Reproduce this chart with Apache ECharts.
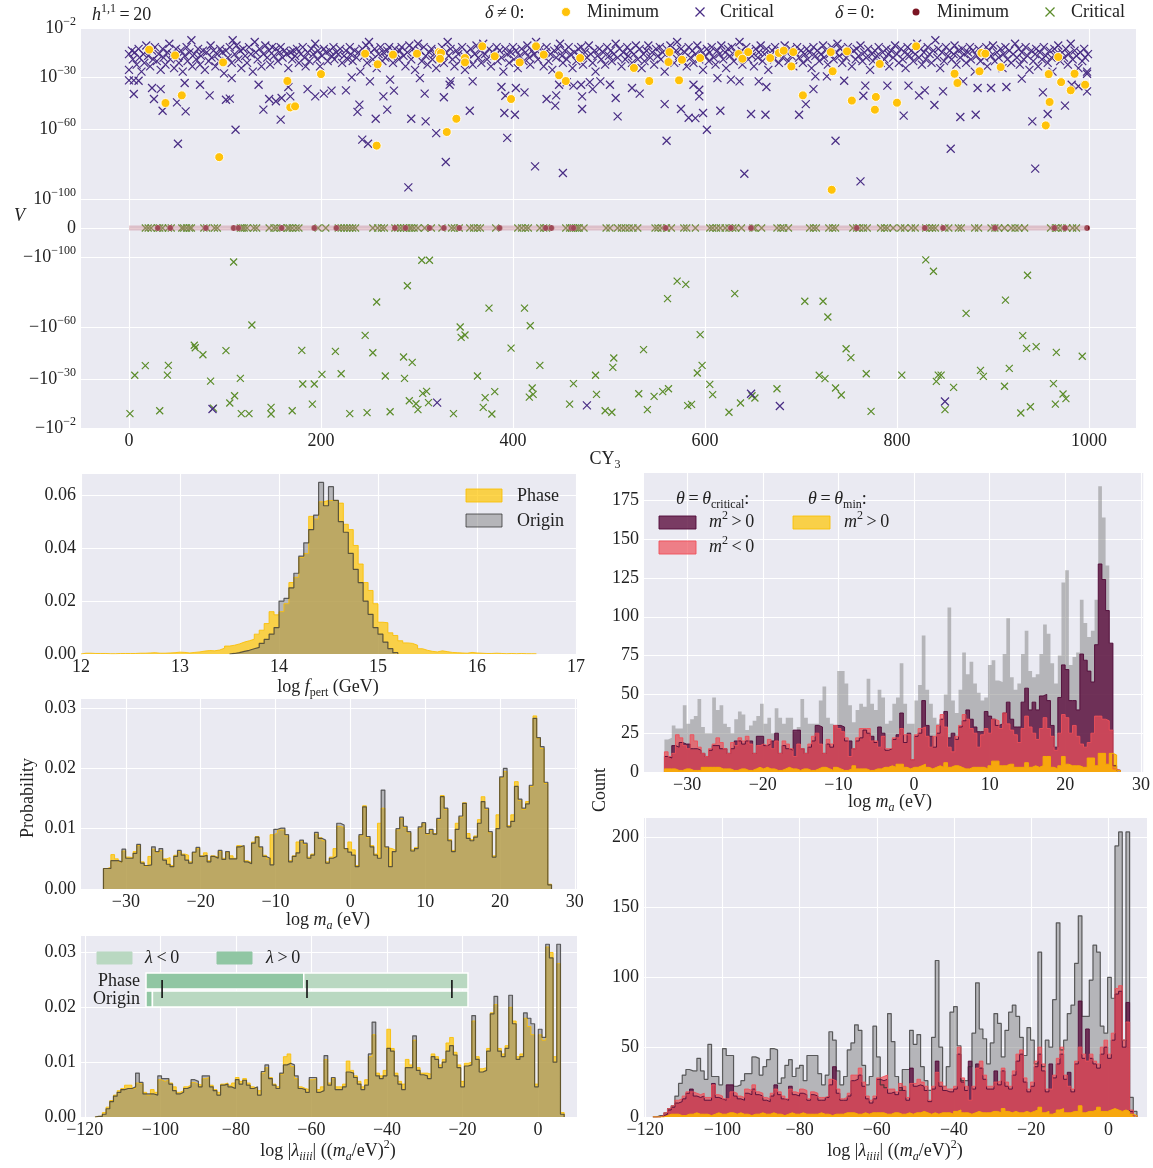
<!DOCTYPE html>
<html>
<head>
<meta charset="utf-8">
<script src="https://cdn.jsdelivr.net/npm/echarts@6/dist/echarts.min.js"></script>
<style>html,body{margin:0;padding:0;background:#fff}#c{width:1153px;height:1168px}</style>
</head>
<body>
<div id="c"></div>
<script>
// ---------------- top panel: potential value V per CY_3 ----------------
// points are [CY index, log10|V|]
const critBand = [[0,-17],[0,-26],[3,-15],[4,-20],[6,-16],[8,-23],[10,-14],[11,-19],[13,-27],[15,-17],[16,-22],[18,-12],[20,-18],[22,-24],[24,-15],[25,-20],[27,-13],[29,-21],[31,-17],[33,-26],[35,-14],[36,-19],[38,-23],[40,-16],[42,-11],[43,-20],[45,-17],[47,-25],[49,-14],[51,-19],[52,-22],[54,-15],[56,-27],[58,-18],[60,-13],[61,-21],[63,-16],[65,-9],[66,-24],[68,-17],[70,-20],[72,-14],[74,-23],[75,-18],[77,-15],[79,-26],[81,-16],[83,-21],[85,-12],[86,-19],[88,-15],[90,-24],[92,-17],[94,-21],[95,-14],[97,-16],[99,-28],[101,-15],[103,-19],[105,-13],[107,-22],[108,-9],[110,-17],[112,-12],[114,-20],[116,-15],[117,-25],[119,-14],[121,-18],[123,-22],[125,-13],[127,-17],[129,-27],[131,-10],[132,-16],[134,-20],[136,-14],[138,-24],[140,-17],[142,-12],[144,-19],[146,-15],[147,-23],[149,-13],[151,-18],[153,-14],[155,-21],[157,-16],[158,-13],[160,-19],[162,-15],[164,-17],[166,-25],[168,-16],[170,-20],[171,-15],[173,-18],[175,-14],[177,-22],[179,-17],[181,-13],[183,-19],[184,-24],[186,-16],[188,-21],[190,-14],[192,-17],[194,-11],[196,-20],[197,-15],[199,-24],[201,-18],[203,-14],[205,-16],[207,-21],[209,-15],[211,-18],[213,-13],[214,-20],[216,-16],[218,-17],[220,-14],[222,-22],[224,-18],[226,-15],[228,-20],[230,-13],[231,-17],[233,-21],[235,-15],[237,-19],[239,-16],[241,-27],[243,-14],[245,-18],[247,-12],[248,-22],[250,-10],[252,-16],[254,-20],[256,-14],[258,-25],[260,-17],[262,-13],[264,-21],[265,-16],[267,-19],[269,-15],[271,-13],[273,-18],[275,-22],[277,-14],[279,-17],[281,-20],[282,-15],[284,-13],[286,-18],[288,-24],[290,-16],[292,-12],[294,-20],[296,-14],[298,-26],[299,-17],[301,-11],[303,-15],[305,-21],[307,-13],[309,-18],[311,-23],[313,-16],[315,-14],[316,-20],[318,-17],[320,-25],[322,-15],[324,-19],[326,-13],[328,-22],[330,-16],[332,-10],[333,-18],[335,-14],[337,-20],[339,-24],[341,-15],[343,-17],[345,-21],[347,-13],[349,-18],[350,-26],[352,-16],[354,-20],[356,-14],[358,-23],[360,-17],[362,-12],[364,-19],[366,-15],[367,-22],[369,-11],[371,-17],[373,-20],[375,-14],[377,-24],[379,-16],[381,-18],[383,-13],[384,-21],[386,-15],[388,-19],[390,-27],[392,-14],[394,-17],[396,-22],[398,-16],[400,-13],[401,-20],[403,-15],[405,-25],[407,-18],[409,-14],[411,-21],[413,-16],[415,-12],[417,-19],[418,-23],[420,-15],[422,-17],[424,-10],[426,-20],[428,-14],[430,-18],[432,-24],[434,-16],[435,-13],[437,-21],[439,-17],[441,-26],[443,-15],[445,-19],[447,-14],[449,-11],[451,-18],[452,-22],[454,-15],[456,-20],[458,-13],[460,-17],[462,-25],[464,-16],[466,-21],[468,-14],[469,-18],[471,-13],[473,-23],[475,-16],[477,-19],[479,-12],[481,-17],[483,-22],[485,-15],[486,-27],[488,-18],[490,-14],[492,-20],[494,-16],[496,-23],[498,-13],[500,-18],[502,-15],[503,-21],[505,-17],[507,-11],[509,-19],[511,-14],[513,-24],[515,-16],[517,-20],[519,-13],[520,-18],[522,-15],[524,-22],[526,-17],[528,-12],[530,-20],[532,-14],[534,-25],[536,-17],[537,-21],[539,-15],[541,-12],[543,-19],[545,-16],[547,-23],[549,-14],[551,-18],[553,-13],[554,-20],[556,-16],[558,-27],[560,-14],[562,-19],[564,-12],[566,-17],[568,-22],[570,-15],[571,-10],[573,-18],[575,-14],[577,-21],[579,-16],[581,-24],[583,-13],[585,-19],[587,-15],[588,-22],[590,-17],[592,-12],[594,-20],[596,-15],[598,-26],[600,-18],[602,-14],[604,-21],[605,-16],[607,-13],[609,-19],[611,-23],[613,-15],[615,-17],[617,-12],[619,-20],[621,-16],[622,-25],[624,-14],[626,-18],[628,-13],[630,-21],[632,-16],[634,-19],[636,-10],[638,-15],[639,-23],[641,-17],[643,-13],[645,-20],[647,-15],[649,-18],[651,-24],[653,-14],[655,-19],[656,-16],[658,-12],[660,-21],[662,-17],[664,-14],[666,-26],[668,-18],[670,-15],[672,-20],[673,-13],[675,-17],[677,-22],[679,-15],[681,-19],[683,-12],[685,-16],[687,-21],[689,-14],[690,-18],[692,-24],[694,-16],[696,-13],[698,-19],[700,-15],[702,-22],[704,-17],[706,-14],[707,-20],[709,-16],[711,-25],[713,-13],[715,-18],[717,-15],[719,-21],[721,-17],[723,-12],[724,-19],[726,-15],[728,-23],[730,-17],[732,-13],[734,-20],[736,-16],[738,-11],[740,-18],[741,-14],[743,-22],[745,-16],[747,-19],[749,-13],[751,-17],[753,-24],[755,-15],[757,-20],[758,-14],[760,-18],[762,-12],[764,-21],[766,-16],[768,-19],[770,-14],[772,-26],[774,-17],[775,-21],[777,-15],[779,-18],[781,-13],[783,-22],[785,-16],[787,-20],[789,-14],[791,-17],[792,-24],[794,-15],[796,-19],[798,-12],[800,-17],[802,-22],[804,-14],[806,-20],[808,-16],[809,-25],[811,-13],[813,-18],[815,-15],[817,-21],[819,-17],[821,-11],[823,-19],[825,-14],[826,-23],[828,-16],[830,-20],[832,-13],[834,-17],[836,-22],[838,-15],[840,-9],[842,-19],[843,-14],[845,-25],[847,-16],[849,-21],[851,-13],[853,-18],[855,-15],[857,-20],[859,-17],[860,-12],[862,-23],[864,-15],[866,-19],[868,-14],[870,-17],[872,-22],[874,-16],[876,-13],[877,-20],[879,-15],[881,-27],[883,-18],[885,-14],[887,-21],[889,-16],[891,-19],[893,-13],[894,-24],[896,-15],[898,-18],[900,-12],[902,-21],[904,-16],[906,-19],[908,-14],[910,-25],[911,-17],[913,-13],[915,-20],[917,-15],[919,-22],[921,-17],[923,-11],[925,-19],[927,-14],[928,-23],[930,-16],[932,-20],[934,-13],[936,-18],[938,-26],[940,-15],[942,-21],[944,-17],[945,-14],[947,-24],[949,-16],[951,-20],[953,-13],[955,-18],[957,-22],[959,-15],[961,-19],[962,-27],[964,-14],[966,-17],[968,-12],[970,-21],[972,-16],[974,-19],[976,-14],[978,-23],[979,-17],[981,-11],[983,-20],[985,-15],[987,-18],[989,-25],[991,-16],[993,-21],[995,-14],[996,-19],[998,-27],[999,-17]];
const critSparse = [[0,-32],[5,-32],[10,-32.2],[5,-39.8],[24,-36.4],[26,-42.7],[35,-49.4],[33,-37],[51,-68.3],[50,-44.6],[59,-49.8],[58,-33.5],[74,-34.5],[84,-40.6],[101,-43.1],[105,-42.5],[111,-60.3],[107,-30.7],[135,-34.5],[140,-48.8],[146,-42.7],[153,-44],[159,-42.1],[158,-54.5],[166,-35.8],[168,-41.2],[186,-37],[194,-41.2],[203,-39.6],[211,-37.9],[226,-37.7],[232,-30.3],[238,-50.1],[240,-45.9],[243,-66],[249,-68.3],[251,-32.6],[257,-54],[265,-41.2],[269,-48.8],[272,-31.6],[276,-37.9],[291,-93.3],[294,-54],[303,-30.7],[308,-39.6],[309,-55.5],[320,-62.2],[328,-41.7],[330,-78.8],[334,-34.5],[335,-32.6],[355,-49.4],[358,-32.6],[388,-35.8],[392,-40.8],[394,-65],[391,-50.7],[402,-51.7],[403,-36.4],[412,-38.9],[423,-81.3],[435,-42.7],[444,-46.5],[445,-40.6],[452,-85.1],[448,-34.5],[456,-33.1],[463,-35],[471,-34.5],[472,-41.2],[472,-48.4],[480,-33],[483,-37],[491,-32.6],[501,-34.5],[507,-42.1],[509,-52.6],[524,-36.4],[532,-39.6],[558,-45.6],[560,-66.6],[575,-48.4],[583,-53.4],[588,-34.5],[590,-53.6],[594,-37.4],[594,-41.2],[598,-50.7],[602,-60.3],[613,-30.7],[616,-49.4],[627,-31.6],[636,-32.6],[641,-85.5],[648,-51.3],[656,-32.6],[663,-51.7],[664,-35.8],[698,-51.7],[705,-45.6],[713,-37],[715,-29.7],[727,-29.7],[736,-66.6],[745,-32.2],[762,-89.9],[765,-40.8],[767,-35],[790,-35],[807,-52.2],[812,-35],[823,-40.6],[829,-37.7],[839,-46.1],[848,-38.3],[856,-71.2],[866,-53],[869,-32.6],[882,-51.7],[884,-36.4],[898,-36.4],[914,-35.8],[930,-31],[941,-55.5],[944,-82.6],[952,-38.9],[957,-51.3],[975,-46.5],[982,-34.5],[989,-35.4],[998,-38.3],[998,-28.2]];
const critNeg = [[87,-12.9],[321,-16.5],[477,-15],[648,-21.6],[678,-14.6],[850,-17.2]];
const minNonzero = [[21,-14.4],[48,-17.7],[38,-45],[55,-40.6],[98,-21.7],[94,-76],[165,-32.4],[168,-47.5],[173,-46.9],[200,-28.4],[246,-16.7],[259,-22.8],[258,-69.4],[275,-17.3],[300,-16.7],[323,-15.8],[325,-16.3],[324,-19.6],[331,-61.6],[341,-54],[350,-19.2],[350,-21.7],[368,-12.5],[381,-18.2],[398,-42.7],[407,-21.7],[424,-12.5],[432,-17.3],[448,-29.1],[455,-32.4],[470,-19.2],[526,-24.9],[542,-32.4],[563,-15.8],[562,-21.5],[576,-20.2],[573,-32],[595,-19.2],[635,-16.9],[639,-19.6],[645,-15.8],[668,-19.2],[677,-16.3],[682,-15],[690,-24],[692,-15.8],[702,-40.6],[731,-15.8],[733,-26.8],[732,-94.7],[748,-15.4],[753,-43.6],[778,-41.5],[777,-48.8],[782,-22.6],[800,-44.8],[820,-12.5],[860,-28.2],[863,-33.5],[888,-16.3],[892,-16.7],[886,-26.8],[908,-24.4],[958,-28.4],[959,-44.4],[955,-57.8],[968,-18.6],[971,-33],[985,-28.2],[981,-37.7],[996,-34.5]];
const zeroCritNeg = [[1,-10.2],[6,-32.2],[17,-37.7],[32,-11.9],[41,-37.9],[40,-32.3],[68,-49.4],[69,-48],[77,-44],[85,-28.9],[88,-13.4],[101,-46.3],[105,-16.3],[110,-20.5],[109,-97.1],[116,-30.4],[117,-10.2],[125,-10.2],[128,-61],[148,-13.8],[148,-10],[170,-11.9],[180,-46.5],[181,-27.2],[191,-15.7],[193,-27.2],[201,-32.7],[215,-45.9],[221,-33.1],[230,-10.2],[246,-55.1],[248,-10.8],[254,-45.1],[258,-74.2],[267,-31.8],[272,-11.3],[286,-42.7],[287,-30.4],[290,-83.5],[295,-39.6],[292,-17.6],[299,-15.9],[301,-12.5],[305,-98.1],[313,-98.1],[306,-21.8],[310,-23],[312,-16.5],[338,-10.2],[345,-59.9],[346,-53.9],[350,-55.3],[363,-31.8],[369,-13.8],[371,-19.4],[375,-70.7],[378,-10],[381,-22.8],[398,-47.8],[412,-70.7],[417,-19.7],[418,-60.6],[420,-24.9],[421,-21.3],[428,-37.9],[459,-15.7],[463,-27.4],[486,-32.2],[487,-21.3],[496,-11.9],[503,-11],[505,-42.1],[504,-36.7],[531,-21.6],[536,-46.9],[540,-12.5],[547,-20.1],[556,-22.8],[562,-24.5],[561,-76.1],[571,-86.2],[580,-84.3],[582,-14.8],[586,-15.5],[592,-33.5],[595,-55.5],[597,-37.9],[605,-27],[608,-21.1],[625,-11],[631,-79],[637,-16.3],[649,-20.5],[652,-19.2],[675,-24.5],[704,-74.6],[719,-32.2],[723,-74.6],[725,-30.3],[728,-65.6],[736,-24.9],[742,-20.9],[747,-47.4],[752,-42.3],[768,-33.1],[773,-11.5],[805,-32.3],[830,-98.3],[838,-91.8],[841,-28.7],[843,-32.3],[846,-32.3],[850,-12.5],[859,-25.3],[872,-67.7],[887,-35],[890,-31.6],[912,-25.9],[913,-75.3],[917,-36.2],[929,-10.6],[931,-54.9],[935,-47.6],[936,-89.5],[939,-14.2],[945,-48.6],[963,-27.4],[965,-15.7],[966,-45.3],[973,-21.5],[976,-18.8],[993,-43.1]];
const zeroCritCY = [17,20,23,30,32,35,41,44,55,57,60,63,65,78,81,89,92,116,118,120,123,130,133,146,151,154,158,165,167,170,174,177,197,205,218,221,224,227,230,233,236,254,259,263,266,277,280,283,286,289,292,294,297,301,308,315,326,336,339,344,355,359,363,366,382,405,409,413,416,428,432,435,455,459,461,463,465,467,469,474,497,501,509,513,517,521,525,530,548,551,555,560,565,578,581,590,605,608,612,616,621,625,629,632,638,650,652,659,675,679,682,687,709,713,716,729,733,736,754,758,761,765,769,783,787,790,796,804,808,815,819,830,834,837,840,850,854,864,867,881,885,898,902,906,912,919,923,927,933,960,965,968,972,977,983,987];
const zeroMinCY = [30,43,80,109,114,159,193,216,277,288,313,328,344,386,434,440,461,463,559,627,648,758,829,848,902,964,975,998];
const zeroBandCY = [0, 999];
const cyTicks = [0, 200, 400, 600, 800, 1000];
const vTickExps = [-2, -30, -60, -100];

// ---------------- f_pert distributions (probability per bin) ----------------
const fpertStart = 12.0, fpertWidth = 0.05;
const fpertPhase = [0.0003,0.0003,0.0002,0.0002,0.0002,0.0001, 0.0001,0.0002,0.0002,0.0002,0.0002,0.0003, 0.0003,0.0004,0.0005,0.0003,0.0003,0.0004, 0.0005,0.0007,0.0006,0.0004,0.0006,0.0008, 0.0011,0.0013,0.0012,0.0015,0.0022,0.0030, 0.0033,0.0038,0.0045,0.0050,0.0056,0.0075, 0.0090,0.0115,0.0160,0.0148,0.0160,0.0190, 0.0270,0.0290,0.0365,0.0380,0.0520,0.0510, 0.0575,0.0580,0.0580,0.0580,0.0570,0.0490, 0.0470,0.0410,0.0340,0.0270,0.0240,0.0190, 0.0120,0.0118,0.0080,0.0070,0.0050,0.0042, 0.0040,0.0033,0.0020,0.0014,0.0010,0.0008, 0.0012,0.0009,0.0006,0.0005,0.0004,0.0003, 0.0006,0.0004,0.0003,0.0002,0.0002,0.0003, 0.0002,0.0001,0.0002,0.0001,0.0002,0.0001,0.0001,0.0001];
const fpertOriginStart = 13.5;
const fpertOrigin = [0.0002,0.0005,0.0010,0.0014,0.0020,0.0025, 0.0040,0.0055,0.0075,0.0100,0.0200,0.0210, 0.0250,0.0305,0.0370,0.0420,0.0470,0.0525, 0.0648,0.0560,0.0632,0.0580,0.0500,0.0460, 0.0380,0.0320,0.0270,0.0200,0.0150,0.0100, 0.0075,0.0045,0.0020,0.0005];

// ---------------- log m_a distributions ----------------
const maStart = -33.0, maWidthProb = 0.495, maWidthCount = 0.486;
const maOriginProb = [0.0034,0.0034,0.0047,0.0047,0.0045,0.0066,0.0051,0.0051,0.0059,0.0074, 0.0043,0.0039,0.0040,0.0070,0.0062,0.0067,0.0048,0.0041,0.0037,0.0054, 0.0064,0.0056,0.0048,0.0043,0.0061,0.0069,0.0054,0.0056,0.0045,0.0054, 0.0051,0.0064,0.0049,0.0062,0.0050,0.0050,0.0070,0.0072,0.0045,0.0042, 0.0076,0.0086,0.0070,0.0054,0.0051,0.0040,0.0099,0.0101,0.0101,0.0090, 0.0045,0.0054,0.0060,0.0081,0.0076,0.0051,0.0056,0.0094,0.0084,0.0081, 0.0043,0.0051,0.0054,0.0109,0.0106,0.0067,0.0061,0.0056,0.0037,0.0090, 0.0136,0.0087,0.0070,0.0056,0.0051,0.0164,0.0070,0.0037,0.0062,0.0100, 0.0119,0.0104,0.0095,0.0063,0.0067,0.0103,0.0110,0.0092,0.0099,0.0091, 0.0117,0.0153,0.0134,0.0080,0.0062,0.0099,0.0121,0.0142,0.0084,0.0080, 0.0086,0.0109,0.0145,0.0134,0.0095,0.0053,0.0100,0.0186,0.0200,0.0103, 0.0112,0.0170,0.0149,0.0134,0.0141,0.0172,0.0283,0.0251,0.0236,0.0177, 0.0007];
const maPhaseProb = [0.0034,0.0036,0.0057,0.0050,0.0045,0.0063,0.0053,0.0052,0.0062,0.0072, 0.0045,0.0038,0.0054,0.0066,0.0060,0.0064,0.0050,0.0052,0.0039,0.0056, 0.0062,0.0058,0.0056,0.0045,0.0060,0.0067,0.0055,0.0060,0.0047,0.0055, 0.0053,0.0062,0.0051,0.0061,0.0055,0.0051,0.0072,0.0070,0.0047,0.0044, 0.0078,0.0087,0.0068,0.0056,0.0050,0.0090,0.0093,0.0098,0.0098,0.0088, 0.0047,0.0055,0.0078,0.0080,0.0074,0.0053,0.0058,0.0091,0.0085,0.0080, 0.0045,0.0053,0.0067,0.0104,0.0102,0.0066,0.0078,0.0065,0.0039,0.0088, 0.0138,0.0085,0.0072,0.0058,0.0109,0.0134,0.0068,0.0067,0.0064,0.0098, 0.0117,0.0102,0.0093,0.0065,0.0069,0.0101,0.0108,0.0091,0.0097,0.0092, 0.0115,0.0155,0.0132,0.0082,0.0064,0.0109,0.0119,0.0143,0.0092,0.0082, 0.0088,0.0115,0.0153,0.0132,0.0093,0.0055,0.0123,0.0184,0.0195,0.0105, 0.0123,0.0178,0.0147,0.0132,0.0145,0.0170,0.0287,0.0250,0.0233,0.0175, 0.0008];
const maTotalCount = [21,22,30,28,28,43,31,34,36,47, 29,25,25,48,40,43,31,29,25,34, 39,37,27,30,33,36,44,31,35,25, 41,35,31,35,35,26,29,47,35,31, 31,31,46,55,35,31,28,65,65,57, 43,32,40,44,42,60,44,40,53,48, 31,33,44,48,70,44,31,31,46,56, 88,53,44,35,31,23,50,106,46,38, 53,77,63,71,57,51,46,48,69,72, 59,58,76,99,61,53,57,76,91,65, 61,63,76,95,89,70,57,75,122,130, 69,74,77,111,96,87,91,111,184,164, 133,83,5,2];
const maCritPos = [10,9,17,16,19,18,18,15,15,14, 12,10,14,17,17,15,15,12,15,20, 20,18,20,20,12,23,23,17,18,20, 25,12,17,15,14,27,27,15,12,16, 20,30,29,12,18,16,30,30,29,20, 20,15,20,22,27,25,23,19,29,25, 14,15,21,24,38,19,25,8,23,25, 46,30,23,16,25,34,39,22,25,21, 29,33,40,34,29,26,26,39,36,34, 30,31,38,45,34,29,29,45,54,40, 45,40,49,50,46,30,16,48,69,66, 46,46,40,76,72,65,58,82,134,124, 104,83,4,1];
const maCritNeg = [13,10,12,24,22,17,15,24,20,16, 12,10,15,18,22,19,15,12,19,17, 22,20,23,18,12,17,18,17,21,15, 20,12,20,18,15,10,18,15,12,18, 23,25,18,12,21,18,30,28,26,22, 10,15,22,28,28,28,20,20,16,23, 15,15,22,22,28,24,24,8,24,28, 29,23,16,23,30,37,29,16,13,23, 30,37,34,28,25,16,24,28,25,34, 33,28,38,31,27,24,19,28,36,29, 25,21,28,35,28,23,14,25,37,35, 25,30,23,18,16,19,25,36,36,34, 33,27,2,1];
const maMinPos = [2,2,2,1,1,2,2,1,1,1, 3,3,3,3,3,2,2,2,1,1, 2,2,1,1,2,3,2,3,2,2, 1,1,2,3,2,2,1,2,2,1, 1,2,3,3,2,1,3,2,1,1, 2,4,2,2,2,1,1,2,2,3, 3,4,3,5,5,3,2,3,3,4, 5,3,2,3,4,3,6,3,4,4, 3,2,2,3,3,3,3,2,4,7, 7,4,4,5,5,3,3,3,6,3, 4,3,4,10,10,3,2,4,10,5, 4,4,4,3,3,9,9,4,12,12, 5,12,11,1];

// ---------------- log |lambda_iiii| distributions ----------------
const lamStartProb = -117.3, lamWidthProb = 0.978;
const lamOriginProb = [0.0001,0.0001,0.0005,0.0015,0.0028,0.0038,0.0045,0.0050,0.0052,0.0052, 0.0055,0.0080,0.0063,0.0042,0.0042,0.0042,0.0040,0.0075,0.0070,0.0070, 0.0060,0.0048,0.0042,0.0045,0.0052,0.0055,0.0068,0.0065,0.0055,0.0075, 0.0075,0.0055,0.0048,0.0040,0.0058,0.0060,0.0055,0.0052,0.0068,0.0060, 0.0067,0.0058,0.0052,0.0055,0.0040,0.0083,0.0095,0.0070,0.0058,0.0052, 0.0080,0.0095,0.0098,0.0095,0.0075,0.0052,0.0050,0.0045,0.0072,0.0072, 0.0045,0.0048,0.0112,0.0058,0.0072,0.0050,0.0050,0.0055,0.0082,0.0080, 0.0072,0.0060,0.0050,0.0058,0.0115,0.0173,0.0075,0.0070,0.0075,0.0125, 0.0120,0.0075,0.0060,0.0050,0.0090,0.0090,0.0148,0.0085,0.0077,0.0075, 0.0070,0.0110,0.0105,0.0090,0.0100,0.0120,0.0130,0.0113,0.0090,0.0055, 0.0093,0.0095,0.0185,0.0105,0.0082,0.0085,0.0120,0.0188,0.0220,0.0120, 0.0110,0.0125,0.0222,0.0170,0.0105,0.0110,0.0190,0.0180,0.0170,0.0055, 0.0160,0.0145,0.0315,0.0290,0.0100,0.0315,0.0005];
const lamPhaseProb = [0.0001,0.0002,0.0008,0.0018,0.0030,0.0040,0.0048,0.0052,0.0058,0.0058, 0.0052,0.0062,0.0060,0.0045,0.0040,0.0050,0.0045,0.0068,0.0065,0.0068, 0.0062,0.0055,0.0045,0.0048,0.0055,0.0058,0.0063,0.0060,0.0058,0.0070, 0.0072,0.0058,0.0050,0.0045,0.0060,0.0062,0.0058,0.0062,0.0072,0.0065, 0.0070,0.0062,0.0055,0.0052,0.0048,0.0080,0.0090,0.0072,0.0060,0.0055, 0.0078,0.0110,0.0115,0.0092,0.0070,0.0055,0.0052,0.0050,0.0068,0.0070, 0.0050,0.0055,0.0105,0.0062,0.0070,0.0055,0.0055,0.0060,0.0102,0.0085, 0.0075,0.0065,0.0055,0.0068,0.0110,0.0150,0.0080,0.0075,0.0085,0.0160, 0.0125,0.0080,0.0065,0.0060,0.0105,0.0095,0.0140,0.0090,0.0080,0.0080, 0.0078,0.0115,0.0110,0.0095,0.0105,0.0135,0.0145,0.0118,0.0095,0.0065, 0.0098,0.0100,0.0175,0.0110,0.0088,0.0090,0.0125,0.0190,0.0205,0.0125, 0.0115,0.0130,0.0200,0.0175,0.0110,0.0115,0.0180,0.0165,0.0150,0.0060, 0.0150,0.0140,0.0310,0.0300,0.0110,0.0280,0.0008];
const lamStartCount = -118.0, lamWidthCount = 0.95;
const lamTotalCount = [0,1,1,3,6,8,15,24,30,34, 33,33,42,33,27,52,29,29,23,49, 44,44,22,23,26,31,31,43,42,30, 36,41,49,48,24,28,37,41,29,35, 37,26,44,44,44,31,23,30,61,55, 33,23,29,48,53,66,62,37,23,29, 65,43,23,21,74,54,29,19,34,34, 62,52,59,36,26,19,57,112,50,22, 36,75,79,51,26,26,36,60,96,63, 56,38,53,74,67,43,62,75,80,72, 57,44,64,55,38,118,36,55,50,84, 139,48,55,74,80,110,144,72,72,98, 123,118,65,60,100,85,194,204,55,204, 14,4];
const lamCritPos = [0,0,1,2,5,7,10,11,13,17, 20,15,14,15,12,12,24,14,13,12, 23,23,15,13,12,17,16,20,16,15, 12,11,15,23,16,13,12,22,16,15, 17,16,12,16,15,12,12,14,23,36, 17,12,12,15,26,27,30,22,13,10, 13,27,26,27,17,18,16,21,19,12, 35,22,23,22,19,11,20,40,22,19, 18,18,20,45,25,19,40,20,38,35, 27,20,20,33,23,33,22,20,30,40, 45,25,18,22,36,45,33,18,38,28, 38,45,27,32,18,38,83,42,63,42, 38,35,45,50,42,55,88,90,50,82, 4,1];
const lamCritNeg = [0,0,1,3,6,8,12,13,15,18, 18,17,16,17,14,14,23,16,15,13, 13,18,17,15,14,20,19,23,18,17, 14,13,17,20,18,15,13,20,18,17, 20,19,13,18,17,14,14,15,27,26, 20,13,14,17,30,30,35,25,15,12, 15,28,29,30,20,20,18,24,22,14, 24,24,27,25,22,12,22,32,25,22, 20,20,22,50,28,22,12,22,35,40, 30,22,22,25,26,35,25,22,33,45, 48,28,20,25,40,50,38,20,20,30, 42,50,30,22,20,40,50,45,40,45, 40,38,50,55,45,60,92,94,55,68, 5,1];
const lamMinPos = [0,0,0,1,2,2,2,1,1,2, 2,3,2,2,2,1,2,3,2,2, 3,3,2,3,2,2,1,2,2,3, 2,2,3,2,2,1,2,3,2,2, 3,2,2,2,2,3,2,2,1,2, 2,2,3,3,3,2,2,3,2,3, 3,3,3,2,2,3,3,2,2,3, 2,3,3,4,3,2,3,2,3,3, 3,2,4,5,3,3,2,3,4,3, 3,3,4,4,3,6,4,3,4,3, 3,4,3,4,5,7,3,4,2,3, 5,6,3,3,4,4,8,3,4,4, 5,7,4,4,5,6,5,4,5,4, 2,1];

// sign-of-coupling fractions and marker positions for the inset bar
const insetRows = ['Origin', 'Phase'];
const lamPositiveFrac = [0.02, 0.49];
const insetMarkers = [0.05, 0.5, 0.95];

// ---------------- styling ----------------
const SERIF = '"Liberation Serif","DejaVu Serif","Times New Roman",serif';
const TXT = '#222222';
const BG = '#EAEAF2';
const SHIFT = 116.6;               // symmetric-log offset for the V axis
const T = (sign, e) => sign * (e + SHIFT);

function rs(size, italic, lh, va) {
  return {fontFamily: SERIF, fontSize: size, fontStyle: italic ? 'italic' : 'normal',
          color: TXT, fill: TXT, lineHeight: lh, verticalAlign: va};
}
const RICH = {
  n: rs(18, false, 24, 'middle'), i: rs(18, true, 24, 'middle'),
  s: rs(12, false, 12, 'top'), si: rs(12, true, 12, 'top'),
  u: rs(12, false, 12, 'bottom'), ui: rs(12, true, 12, 'bottom'),
  b: rs(18, false, 24, 'middle')
};

const minus = v => (v < 0 ? '\u2212' + (-v) : String(v));
const range = (a, b, step) => { const r = []; for (let v = a; v <= b + 1e-9; v += step) r.push(+v.toFixed(6)); return r; };

function axis(gridIndex, min, max, ticks, fmt, show) {
  return {
    type: 'value', gridIndex, min, max, show: show !== false,
    axisLine: {show: false}, axisTick: {show: false, customValues: ticks},
    axisLabel: {customValues: ticks, formatter: fmt, fontFamily: SERIF, fontSize: 18, color: TXT, margin: 5, rich: RICH},
    splitLine: {show: true, lineStyle: {color: '#ffffff', width: 1.1}}
  };
}

function stepPoints(start, width, vals) {
  const pts = [[start, 0]];
  vals.forEach((v, i) => pts.push([start + i * width, v]));
  pts.push([start + vals.length * width, vals[vals.length - 1]]);
  pts.push([start + vals.length * width, 0]);
  return pts;
}
function hist(ax, start, width, vals, fill, edge, edgeW) {
  return {
    type: 'line', xAxisIndex: ax, yAxisIndex: ax, step: 'end', symbol: 'none', silent: true,
    data: stepPoints(start, width, vals),
    lineStyle: {color: edge || fill, width: edge ? edgeW : 0, opacity: edge ? 1 : 0},
    areaStyle: {color: fill, opacity: 1}
  };
}

const C_PURPLE = '#482c84', C_GREEN = '#5b8c2a', C_GOLD = '#ffc20a', C_DRED = '#7b1523';
const X_SYMBOL = 'path://M0,0L10,10M10,0L0,10';

const F_PHASE = 'rgba(255,196,0,0.70)', E_PHASE = 'rgba(250,190,0,0.85)';
const F_GRAY = 'rgba(128,128,128,0.5)', E_GRAY = 'rgba(50,50,50,0.75)';
const F_CPOS = 'rgba(92,15,63,0.80)', E_CPOS = 'rgba(80,10,55,0.9)';
const F_CNEG = 'rgba(240,80,90,0.70)', E_CNEG = 'rgba(240,80,90,0.9)';
const F_MIN = 'rgba(255,185,0,0.85)', E_MIN = 'rgba(245,172,0,1)';
const G_LIGHT = '#b9d8c1', G_MED = '#90c6a3';

// ---------------- axes ----------------
const vTicks = [...vTickExps.map(e => T(1, e)), 0, ...vTickExps.map(e => T(-1, e))];
const vFmt = v => {
  if (Math.abs(v) < 1e-6) return '{b|0}';
  const e = Math.round(Math.abs(v) - SHIFT);
  return '{b|' + (v < 0 ? '\u221210' : '10') + '}{s|\u2212' + (-e) + '}';
};
const fix2 = v => v.toFixed(2);

const xAxes = [
  axis(0, -50, 1049, cyTicks, v => String(v)),
  axis(1, 12, 17, range(12, 17, 1), v => String(v)),
  axis(2, -36, 30.3, range(-30, 30, 10), minus),
  axis(3, -121, 10.3, range(-120, 0, 20), minus),
  axis(4, -35.7, 30.3, range(-30, 30, 10), minus),
  axis(5, -120.3, 10, range(-120, 0, 20), minus),
  axis(6, 0, 1, [], v => '', false)
];
xAxes.forEach(a => { a.axisLabel.margin = 4; });
const yAxes = [
  axis(0, T(-1, -2), T(1, -2), vTicks, vFmt),
  axis(1, 0, 0.068, range(0, 0.06, 0.02), fix2),
  axis(2, 0, 0.0315, range(0, 0.03, 0.01), fix2),
  axis(3, 0, 0.033, range(0, 0.03, 0.01), fix2),
  axis(4, 0, 192.6, range(0, 175, 25), v => String(v)),
  axis(5, 0, 214, range(0, 200, 50), v => String(v)),
  axis(6, 0, 2, [], v => '', false)
];

const gridBox = (left, top, width, height) => ({left, top, width, height, show: true, backgroundColor: BG, borderWidth: 0, containLabel: false});
const grids = [
  gridBox(81, 28, 1055, 400),
  gridBox(81, 474, 495, 180),
  gridBox(81, 699, 496, 190),
  gridBox(81, 936, 496, 181),
  gridBox(644, 473, 503, 299),
  gridBox(644, 818, 503, 299),
  {left: 146, top: 972, width: 322, height: 36, show: false}
];

// ---------------- series ----------------
const series = [];
// zero line band of the delta = 0 solutions
series.push({type: 'line', xAxisIndex: 0, yAxisIndex: 0, symbol: 'none', silent: true,
  data: zeroBandCY.map(c => [c, 0]), lineStyle: {color: 'rgba(205,140,150,0.45)', width: 5}});
const scatter = (data, symbol, size, color, border, bw) => ({
  type: 'scatter', xAxisIndex: 0, yAxisIndex: 0, silent: true, data, symbol, symbolSize: size,
  itemStyle: {color, borderColor: border, borderWidth: bw, opacity: 1}
});
series.push(scatter(critBand.map(p => [p[0], T(1, p[1])]), X_SYMBOL, 8, C_PURPLE, C_PURPLE, 1.2));
series.push(scatter(critSparse.map(p => [p[0], T(1, p[1])]), X_SYMBOL, 8, C_PURPLE, C_PURPLE, 1.2));
series.push(scatter(zeroCritCY.map(c => [c, 0]), X_SYMBOL, 7, C_GREEN, C_GREEN, 1.2));
series.push(scatter(zeroCritNeg.map(p => [p[0], T(-1, p[1])]), X_SYMBOL, 7, C_GREEN, C_GREEN, 1.2));
series.push(scatter(critNeg.map(p => [p[0], T(-1, p[1])]), X_SYMBOL, 8, C_PURPLE, C_PURPLE, 1.2));
series.push(scatter(minNonzero.map(p => [p[0], T(1, p[1])]), 'circle', 9, C_GOLD, '#ffffff', 0.9));
series.push(scatter(zeroMinCY.map(c => [c, 0]), 'circle', 6, C_DRED, 'rgba(255,255,255,0.6)', 0.5));

// probability histograms
series.push(hist(1, fpertStart, fpertWidth, fpertPhase, F_PHASE, E_PHASE, 1));
series.push(hist(1, fpertOriginStart, fpertWidth, fpertOrigin, F_GRAY, E_GRAY, 1.2));
series.push(hist(2, maStart, maWidthProb, maPhaseProb, F_PHASE, E_PHASE, 1));
series.push(hist(2, maStart, maWidthProb, maOriginProb, F_GRAY, E_GRAY, 1.2));
series.push(hist(3, lamStartProb, lamWidthProb, lamPhaseProb, F_PHASE, E_PHASE, 1));
series.push(hist(3, lamStartProb, lamWidthProb, lamOriginProb, F_GRAY, E_GRAY, 1.2));
// count histograms
series.push(hist(4, maStart, maWidthCount, maTotalCount, F_GRAY, null, 0));
series.push(hist(4, maStart, maWidthCount, maCritPos, F_CPOS, E_CPOS, 1));
series.push(hist(4, maStart, maWidthCount, maCritNeg, F_CNEG, E_CNEG, 1));
series.push(hist(4, maStart, maWidthCount, maMinPos, F_MIN, E_MIN, 1));
series.push(hist(5, lamStartCount, lamWidthCount, lamTotalCount, F_GRAY, E_GRAY, 1.2));
series.push(hist(5, lamStartCount, lamWidthCount, lamCritPos, F_CPOS, E_CPOS, 1));
series.push(hist(5, lamStartCount, lamWidthCount, lamCritNeg, F_CNEG, E_CNEG, 1));
series.push(hist(5, lamStartCount, lamWidthCount, lamMinPos, F_MIN, E_MIN, 1));

// inset: fraction of positive / negative couplings
const insetData = [];
insetRows.forEach((r, i) => {
  insetData.push([0, lamPositiveFrac[i], i, 1]);
  insetData.push([lamPositiveFrac[i], 1, i, 0]);
});
series.push({
  type: 'custom', xAxisIndex: 6, yAxisIndex: 6, silent: true, data: insetData, z: 10,
  renderItem: (params, api) => {
    const a = api.coord([api.value(0), api.value(2) + 0.05]);
    const b = api.coord([api.value(1), api.value(2) + 0.95]);
    return {type: 'rect', shape: {x: a[0], y: b[1], width: b[0] - a[0], height: a[1] - b[1]},
      style: {fill: api.value(3) ? G_MED : G_LIGHT, stroke: '#ffffff', lineWidth: 1.5}};
  }
});
series.push({
  type: 'custom', xAxisIndex: 6, yAxisIndex: 6, silent: true, data: insetMarkers.map(f => [f]), z: 11,
  renderItem: (params, api) => {
    const a = api.coord([api.value(0), 0.55]);
    const b = api.coord([api.value(0), 1.55]);
    return {type: 'line', shape: {x1: a[0], y1: a[1], x2: b[0], y2: b[1]}, style: {stroke: '#111', lineWidth: 1.6}};
  }
});

// ---------------- annotations ----------------
const txt = (x, y, text, align, extra) => ({
  type: 'text', x, y, silent: true, z: 100,
  style: Object.assign({text, rich: RICH, fontFamily: SERIF, fontSize: 18, fill: TXT,
    align: align || 'left', verticalAlign: 'middle', textAlign: align || 'left', textVerticalAlign: 'middle'}, extra || {})
});
const cross = (cx, cy, r, color) => [
  {type: 'line', silent: true, z: 100, shape: {x1: cx - r, y1: cy - r, x2: cx + r, y2: cy + r}, style: {stroke: color, lineWidth: 1.3}},
  {type: 'line', silent: true, z: 100, shape: {x1: cx - r, y1: cy + r, x2: cx + r, y2: cy - r}, style: {stroke: color, lineWidth: 1.3}}
];
const patch = (x, y, w, h, fill, stroke) => ({type: 'rect', silent: true, z: 100, shape: {x, y, width: w, height: h},
  style: {fill, stroke: stroke || fill, lineWidth: 1}});

const LAM_LABEL = '{n|log |}{i|\u03bb}{ui|iiii}{n|| ((}{i|m}{ui|a}{n|/eV)}{s|2}{n|)}';
const MA_LABEL = '{n|log }{i|m}{ui|a}{n| (eV)}';

const graphic = [
  txt(92, 15, '{i|h}{s|1,1}{n|\u2009=\u200920}'),
  txt(485, 13, '{i|\u03b4}{n|\u2009\u2260\u20090:}'),
  {type: 'circle', silent: true, z: 100, shape: {cx: 566, cy: 12, r: 4.5}, style: {fill: C_GOLD, stroke: '#fff', lineWidth: 0.8}},
  txt(587, 12, 'Minimum'),
  ...cross(700, 12, 4.5, C_PURPLE),
  txt(720, 12, 'Critical'),
  txt(835, 13, '{i|\u03b4}{n|\u2009=\u20090:}'),
  {type: 'circle', silent: true, z: 100, shape: {cx: 916, cy: 12, r: 3.5}, style: {fill: C_DRED}},
  txt(937, 12, 'Minimum'),
  ...cross(1050, 12, 4.5, C_GREEN),
  txt(1071, 12, 'Critical'),
  txt(14, 216, '{i|V}'),
  txt(605, 459, '{n|CY}{u|3}', 'center'),
  // f_pert panel
  patch(466, 489, 36, 13, F_PHASE, E_PHASE), txt(517, 496, 'Phase'),
  patch(466, 514, 36, 13, F_GRAY, E_GRAY), txt(517, 521, 'Origin'),
  txt(328, 687, '{n|log }{i|f}{u|pert}{n| (GeV)}', 'center'),
  txt(328, 920, MA_LABEL, 'center'),
  txt(328, 1151, LAM_LABEL, 'center'),
  Object.assign(txt(28, 798, 'Probability', 'center'), {rotation: Math.PI / 2}),
  Object.assign(txt(600, 790, 'Count', 'center'), {rotation: Math.PI / 2}),
  // inset legend and row labels
  patch(97, 952, 35, 12, G_LIGHT), txt(145, 958, '{i|\u03bb}{n|\u2009<\u20090}'),
  patch(217, 952, 35, 12, G_MED), txt(266, 958, '{i|\u03bb}{n|\u2009>\u20090}'),
  txt(140, 981, 'Phase', 'right'),
  txt(140, 999, 'Origin', 'right'),
  // count panel legend
  txt(676, 499, '{i|\u03b8}{n|\u2009=\u2009}{i|\u03b8}{u|critical}{n|:}'),
  txt(808, 499, '{i|\u03b8}{n|\u2009=\u2009}{i|\u03b8}{u|min}{n|:}'),
  patch(659, 516, 37, 13, F_CPOS, E_CPOS), txt(709, 522, '{i|m}{s|2}{n|\u2009>\u20090}'),
  patch(659, 541, 37, 13, F_CNEG, E_CNEG), txt(709, 547, '{i|m}{s|2}{n|\u2009<\u20090}'),
  patch(793, 516, 37, 13, F_PHASE, E_PHASE), txt(844, 522, '{i|m}{s|2}{n|\u2009>\u20090}'),
  txt(890, 802, MA_LABEL, 'center'),
  txt(895, 1151, LAM_LABEL, 'center')
];

const chart = echarts.init(document.getElementById('c'), null, {renderer: 'canvas'});
chart.setOption({
  animation: false,
  backgroundColor: '#ffffff',
  grid: grids,
  xAxis: xAxes,
  yAxis: yAxes,
  series,
  graphic: {elements: graphic}
});
</script>
</body>
</html>
